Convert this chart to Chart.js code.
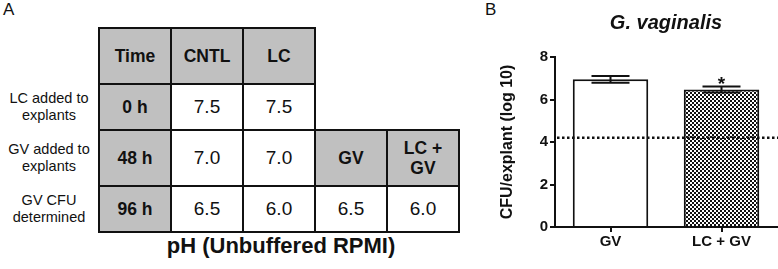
<!DOCTYPE html>
<html>
<head>
<meta charset="utf-8">
<script src="https://cdn.jsdelivr.net/npm/chart.js@4"></script>
<style>
    html, body { margin: 0; padding: 0; background: #fff; }
    body { width: 778px; height: 269px; position: relative; overflow: hidden;
           font-family: "Liberation Sans", Arial, sans-serif; color: #111; }
    .panel-letter { position: absolute; top: 0; font-size: 17px; }
    #phTable { position: absolute; left: 0; top: 27px; border-collapse: collapse; table-layout: fixed; }
    #phTable td { text-align: center; vertical-align: middle; padding: 0; white-space: pre-line; }
    #phTable td.note { width: 98px; font-size: 14.5px; line-height: 17px; border: none; }
    #phTable td.cell { width: 70px; border: 2px solid #111; font-size: 19px; }
    #phTable td.head { background: #c0c0c0; font-weight: bold; font-size: 17.5px; line-height: 20px; }
    #phTable td.blank { width: 70px; border: none; }
    #phCaption { position: absolute; left: 163px; top: 233px; width: 236px; text-align: center;
                 font-weight: bold; font-size: 22px; }
    #chartBox { position: absolute; left: 490px; top: 0; width: 288px; height: 269px; }
</style>
</head>
<body>
<div class="panel-letter" style="left:3px">A</div>
<div class="panel-letter" style="left:485px">B</div>
<table id="phTable"></table>
<div id="phCaption">pH (Unbuffered RPMI)</div>
<div id="chartBox"><canvas id="cfuChart" width="288" height="269"></canvas></div>

<script>
// Panel A: pH of the medium over time
const headerLabels = ['Time', 'CNTL', 'LC'];
const lateHeaders = ['GV', 'LC +\nGV'];
const timeLabels = ['0 h', '48 h', '96 h'];
const rowNotes = ['LC added to\nexplants', 'GV added to\nexplants', 'GV CFU\ndetermined'];
const phCNTL = [7.5, 7.0, 6.5];
const phLC = [7.5, 7.0, 6.0];
const phGV = [null, null, 6.5];
const phLCGV = [null, null, 6.0];

// Panel B: G. vaginalis counts
const groups = ['GV', 'LC + GV'];
const cfuMean = [6.95, 6.47];
const cfuSem = [0.16, 0.14];
const significant = [false, true];
const detectionLimit = 4.2;
const yTicks = [0, 2, 4, 6, 8];

function buildTable() {
    const table = document.getElementById('phTable');
    const rowHeights = [56, 46, 56, 46];

    function addCell(tr, text, cls) {
        const td = document.createElement('td');
        td.className = cls;
        td.textContent = text;
        tr.appendChild(td);
    }

    let tr = document.createElement('tr');
    tr.style.height = rowHeights[0] + 'px';
    addCell(tr, '', 'note');
    headerLabels.forEach(h => addCell(tr, h, 'cell head'));
    addCell(tr, '', 'blank');
    addCell(tr, '', 'blank');
    table.appendChild(tr);

    for (let i = 0; i < timeLabels.length; i++) {
        tr = document.createElement('tr');
        tr.style.height = rowHeights[i + 1] + 'px';
        addCell(tr, rowNotes[i], 'note');
        addCell(tr, timeLabels[i], 'cell head');
        addCell(tr, phCNTL[i].toFixed(1), 'cell');
        addCell(tr, phLC[i].toFixed(1), 'cell');
        if (phGV[i] !== null) {
            addCell(tr, phGV[i].toFixed(1), 'cell');
            addCell(tr, phLCGV[i].toFixed(1), 'cell');
        } else if (phGV[i + 1] !== null && phGV[i + 1] !== undefined) {
            // the GV groups start the row before their first reading
            lateHeaders.forEach(h => addCell(tr, h, 'cell head'));
        } else {
            addCell(tr, '', 'blank');
            addCell(tr, '', 'blank');
        }
        table.appendChild(tr);
    }
}

function checkerPattern(ctx) {
    const c = document.createElement('canvas');
    c.width = 4;
    c.height = 4;
    const p = c.getContext('2d');
    p.fillStyle = '#fff';
    p.fillRect(0, 0, 4, 4);
    p.fillStyle = '#111';
    p.fillRect(0, 0, 2, 2);
    p.fillRect(2, 2, 2, 2);
    return ctx.createPattern(c, 'repeat');
}

const extrasPlugin = {
    id: 'extras',
    afterDatasetsDraw(chart) {
        const ctx = chart.ctx;
        const x = chart.scales.x;
        const y = chart.scales.y;
        const area = chart.chartArea;

        // limit of detection
        ctx.save();
        ctx.strokeStyle = '#111';
        ctx.lineWidth = 2.5;
        ctx.setLineDash([2.5, 2.5]);
        const ly = y.getPixelForValue(detectionLimit);
        ctx.beginPath();
        ctx.moveTo(area.left + 2, ly);
        ctx.lineTo(chart.width, ly);
        ctx.stroke();
        ctx.restore();

        // SEM bars and significance marks
        ctx.save();
        ctx.strokeStyle = '#111';
        ctx.fillStyle = '#111';
        ctx.lineWidth = 2;
        for (let i = 0; i < groups.length; i++) {
            const cx = x.getPixelForValue(i);
            const top = y.getPixelForValue(cfuMean[i] + cfuSem[i]);
            const bot = y.getPixelForValue(cfuMean[i] - cfuSem[i]);
            ctx.beginPath();
            ctx.moveTo(cx, top);
            ctx.lineTo(cx, bot);
            ctx.moveTo(cx - 19, top);
            ctx.lineTo(cx + 19, top);
            ctx.moveTo(cx - 19, bot);
            ctx.lineTo(cx + 19, bot);
            ctx.stroke();
            if (significant[i]) {
                ctx.font = 'bold 19px "Liberation Sans", Arial, sans-serif';
                ctx.textAlign = 'center';
                ctx.textBaseline = 'alphabetic';
                ctx.fillText('*', cx, top + 3);
            }
        }
        ctx.restore();
    }
};

document.addEventListener('DOMContentLoaded', function () {
    buildTable();

    const ctx = document.getElementById('cfuChart').getContext('2d');
    const fills = ['#ffffff', checkerPattern(ctx)];

    new Chart(ctx, {
        type: 'bar',
        data: {
            labels: groups,
            datasets: [{
                data: cfuMean,
                backgroundColor: fills,
                borderColor: '#111',
                borderWidth: 2,
                borderSkipped: 'bottom',
                categoryPercentage: 1,
                barPercentage: 0.68
            }]
        },
        options: {
            responsive: false,
            animation: false,
            devicePixelRatio: 1,
            layout: { padding: { left: 5, right: 1, top: 0, bottom: 0 } },
            plugins: {
                legend: { display: false },
                tooltip: { enabled: false },
                title: {
                    display: true,
                    text: 'G. vaginalis',
                    fullSize: false,
                    color: '#111',
                    font: { family: '"Liberation Sans", Arial, sans-serif', size: 20, weight: 'bold', style: 'italic' },
                    padding: { top: 11, bottom: 22 }
                }
            },
            scales: {
                x: {
                    border: { color: '#111', width: 2 },
                    grid: { display: true, drawOnChartArea: false, offset: false, color: '#111', lineWidth: 2, tickLength: 5 },
                    ticks: {
                        color: '#111',
                        padding: 1,
                        font: { family: '"Liberation Sans", Arial, sans-serif', size: 15, weight: 'bold' }
                    },
                    afterFit: scale => { scale.height = 42; }
                },
                y: {
                    min: 0,
                    max: 8,
                    border: { color: '#111', width: 2 },
                    grid: { display: true, drawOnChartArea: false, color: '#111', lineWidth: 2, tickLength: 5 },
                    afterBuildTicks: scale => { scale.ticks = yTicks.map(v => ({ value: v })); },
                    ticks: {
                        color: '#111',
                        padding: 2,
                        font: { family: '"Liberation Sans", Arial, sans-serif', size: 15, weight: 'bold' }
                    },
                    title: {
                        display: true,
                        text: 'CFU/explant (log 10)',
                        color: '#111',
                        padding: { top: 3, bottom: 0 },
                        font: { family: '"Liberation Sans", Arial, sans-serif', size: 16, weight: 'bold' }
                    },
                    afterFit: scale => { scale.width = 60; }
                }
            }
        },
        plugins: [extrasPlugin]
    });
});
</script>
</body>
</html>
